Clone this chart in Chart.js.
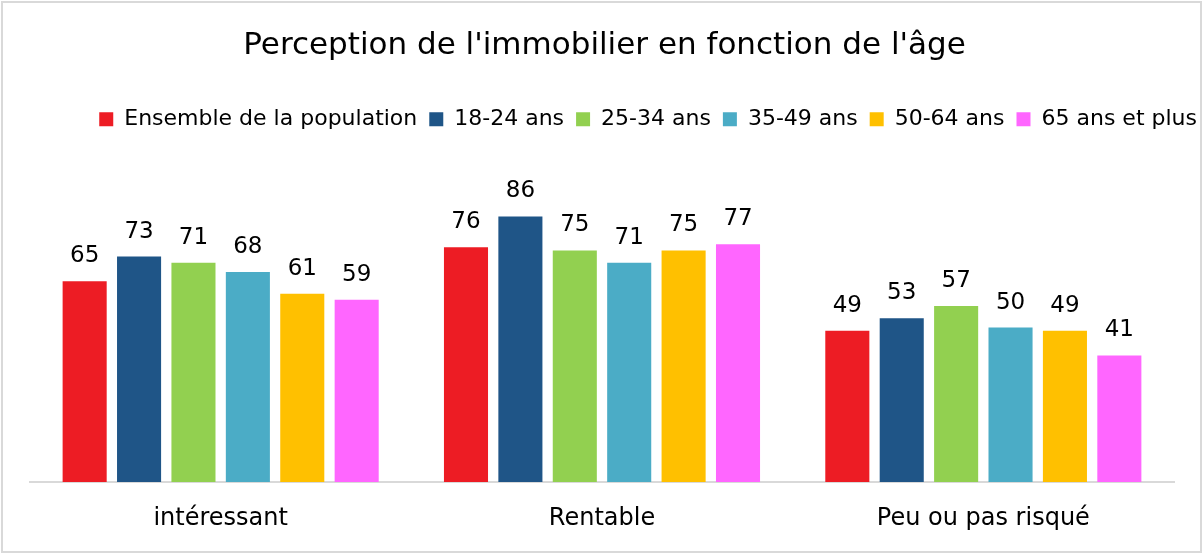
<!DOCTYPE html>
<html>
<head>
<meta charset="utf-8">
<script src="https://cdn.jsdelivr.net/npm/chart.js@4.4.1/dist/chart.umd.min.js"></script>
<style>
  html, body { margin: 0; padding: 0; background: #fff; }
  #wrap { position: relative; width: 1203px; height: 554px; }
</style>
</head>
<body>
<div id="wrap"><canvas id="c" width="1203" height="554"></canvas></div>
<script>
const categories = ["intéressant", "Rentable", "Peu ou pas risqué"];
const seriesNames = ["Ensemble de la population", "18-24 ans", "25-34 ans", "35-49 ans", "50-64 ans", "65 ans et plus"];
const ensemble = [65, 76, 49];
const age18_24 = [73, 86, 53];
const age25_34 = [71, 75, 57];
const age35_49 = [68, 71, 50];
const age50_64 = [61, 75, 49];
const age65plus = [59, 77, 41];
const seriesValues = [ensemble, age18_24, age25_34, age35_49, age50_64, age65plus];
const seriesColors = ["#ED1C24", "#1F5587", "#92D050", "#4BACC6", "#FFC000", "#FF66FF"];
const titleText = "Perception de l'immobilier en fonction de l'âge";

const FONT = "'DejaVu Sans', sans-serif";

const borderPlugin = {
  id: 'frame',
  beforeDraw(chart) {
    const ctx = chart.ctx;
    ctx.save();
    ctx.fillStyle = '#fff';
    ctx.fillRect(0, 0, chart.width, chart.height);
    ctx.strokeStyle = '#d9d9d9';
    ctx.lineWidth = 2;
    ctx.strokeRect(2, 2, chart.width - 4, chart.height - 4);
    ctx.restore();
  }
};

const labelPlugin = {
  id: 'valueLabels',
  afterDatasetsDraw(chart) {
    const ctx = chart.ctx;
    ctx.save();
    ctx.font = "23px " + FONT;
    ctx.fillStyle = '#000';
    ctx.textAlign = 'center';
    ctx.textBaseline = 'middle';
    chart.data.datasets.forEach((ds, i) => {
      const meta = chart.getDatasetMeta(i);
      meta.data.forEach((el, j) => {
        ctx.fillText(String(ds.data[j]), el.x, el.y - 25);
      });
    });
    ctx.restore();
  }
};

new Chart(document.getElementById('c'), {
  type: 'bar',
  data: {
    labels: categories,
    datasets: seriesNames.map((name, i) => ({
      label: name,
      data: seriesValues[i],
      backgroundColor: seriesColors[i],
      borderWidth: 0,
      categoryPercentage: 0.856,
      barPercentage: 0.81
    }))
  },
  options: {
    responsive: false,
    animation: false,
    devicePixelRatio: 1,
    layout: { padding: { top: 0, bottom: 0, left: 0, right: -6 } },
    plugins: {
      title: {
        display: true,
        text: titleText,
        color: '#000',
        font: { family: FONT, size: 31, weight: 'normal' },
        padding: { top: 27, bottom: 32 }
      },
      legend: {
        display: true,
        position: 'top',
        align: 'end',
        labels: {
          color: '#000',
          font: { family: FONT, size: 22 },
          boxWidth: 14,
          boxHeight: 14,
          padding: 12
        }
      },
      tooltip: { enabled: false }
    },
    scales: {
      x: {
        grid: { display: false, drawTicks: false },
        border: { display: true, color: '#d9d9d9', width: 2 },
        ticks: { color: '#000', font: { family: FONT, size: 24 }, padding: 22 },
        afterFit(s) { s.height = 72; }
      },
      y: {
        position: 'left',
        min: 0,
        max: 110.7,
        display: true,
        grid: { display: false, drawTicks: false },
        border: { display: false },
        ticks: { display: false },
        afterFit(s) { s.width = 30; }
      },
      y2: {
        type: 'linear',
        position: 'right',
        display: true,
        grid: { display: false, drawTicks: false },
        border: { display: false },
        ticks: { display: false },
        afterFit(s) { s.width = 35; }
      }
    }
  },
  plugins: [borderPlugin, labelPlugin]
});
</script>
</body>
</html>
